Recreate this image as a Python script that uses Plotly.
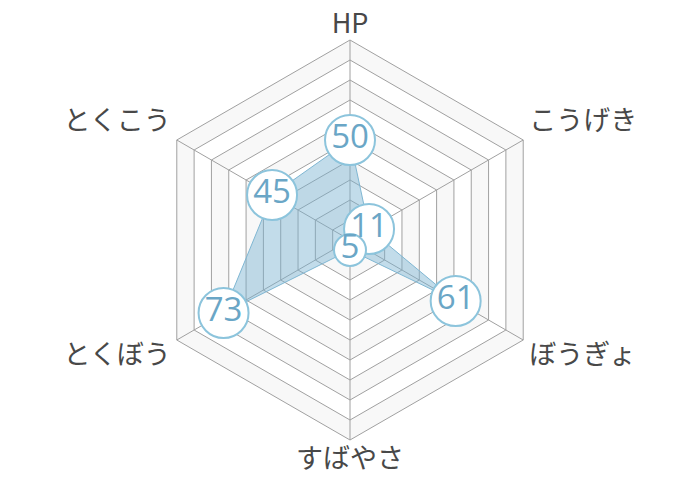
import plotly.graph_objects as go

categories = ["HP", "こうげき", "ぼうぎょ", "すばやさ", "とくぼう", "とくこう"]
values = [50, 11, 61, 5, 73, 45]
r_max = 100
ring_step = 10

W, H = 700, 480
# page offset of the plot div inside the browser body (default 8px body margin)
off = 8
cx, cy, R = 350 - off, 240 - off, 200
R_lab = min(cy, H - cy)            # radius of the (wider) label subplot
r_lab_max = r_max * R_lab / R      # keeps the same px-per-unit scale

fig = go.Figure()

# alternating background bands (outer to inner), bottom subplot
theta_closed = categories + [categories[0]]
levels = list(range(r_max, 0, -ring_step))
for i, lv in enumerate(levels):
    fig.add_trace(go.Scatterpolar(
        r=[lv] * len(theta_closed), theta=theta_closed,
        mode="lines", fill="toself",
        fillcolor="#f8f8f8" if i % 2 == 0 else "#ffffff",
        line=dict(width=0, color="rgba(0,0,0,0)"),
        hoverinfo="skip", showlegend=False, subplot="polar"))

# data polygon + labelled markers, middle subplot (its grid is drawn below these)
sizes = [50 if len(str(v)) > 1 else 32 for v in values]
fig.add_trace(go.Scatterpolar(
    r=values + [values[0]], theta=theta_closed,
    mode="lines", fill="toself",
    fillcolor="rgba(120,178,208,0.45)",
    line=dict(color="#7fb6d2", width=1),
    hoverinfo="skip", showlegend=False, subplot="polar2"))
fig.add_trace(go.Scatterpolar(
    r=values, theta=categories,
    mode="markers+text", text=[str(v) for v in values],
    textposition="middle center",
    textfont=dict(family="Open Sans", size=33, color="#6aa6c6"),
    marker=dict(size=sizes, color="white", line=dict(color="#8cc4dc", width=2), opacity=1),
    cliponaxis=False,
    hoverinfo="skip", showlegend=False, subplot="polar2"))

# category labels around the outside (wider subplot with the same scale)
label_pos = ["top center", "top right", "bottom right", "bottom center", "bottom left", "top left"]
label_r = [100, 103.5, 103.5, 104, 103.5, 103.5]
fig.add_trace(go.Scatterpolar(
    r=label_r, theta=categories, mode="text", text=categories,
    textposition=label_pos,
    textfont=dict(family="Noto Sans CJK JP", size=27, color="#484848"),
    cliponaxis=False, hoverinfo="skip", showlegend=False, subplot="polar3"))


def dom(radius):
    return dict(x=[(cx - radius) / W, (cx + radius) / W],
                y=[(H - cy - radius) / H, (H - cy + radius) / H])


common_ang = dict(type="category", categoryorder="array", categoryarray=categories,
                  direction="clockwise", rotation=90)
hidden = dict(
    gridshape="linear", bgcolor="rgba(0,0,0,0)",
    angularaxis=dict(**common_ang, visible=False, showgrid=False, showline=False,
                     showticklabels=False),
)

fig.update_layout(
    width=W, height=H,
    margin=dict(l=0, r=0, t=0, b=0, autoexpand=False),
    paper_bgcolor="white",
    font=dict(family="Noto Sans CJK JP", color="#484848"),
    showlegend=False,
    polar=dict(domain=dom(R), **hidden,
               radialaxis=dict(range=[0, r_max], visible=False, showgrid=False)),
    polar2=dict(
        domain=dom(R),
        gridshape="linear",
        bgcolor="rgba(0,0,0,0)",
        radialaxis=dict(range=[0, r_max], dtick=ring_step, tick0=0,
                        showticklabels=False, ticks="", showline=False,
                        gridcolor="#a0a0a0", gridwidth=1),
        angularaxis=dict(**common_ang, showline=True, linecolor="#a0a0a0", linewidth=1,
                         gridcolor="#a0a0a0", gridwidth=1, ticks="",
                         showticklabels=False),
    ),
    polar3=dict(domain=dom(R_lab), **hidden,
                radialaxis=dict(range=[0, r_lab_max], visible=False, showgrid=False)),
)

fig.write_html("out.html")
